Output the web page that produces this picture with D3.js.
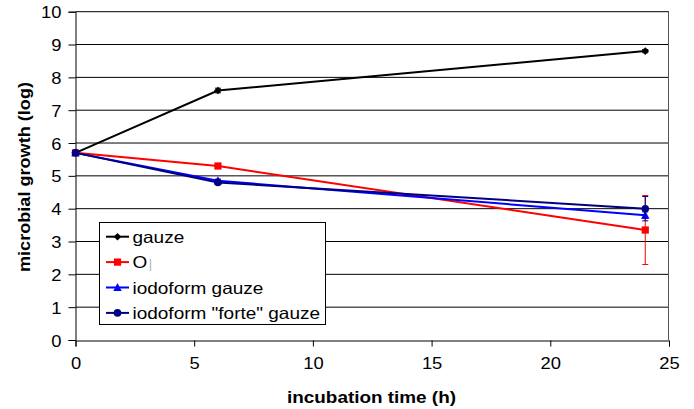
<!DOCTYPE html>
<html><head><meta charset="utf-8">
<script src="https://cdn.jsdelivr.net/npm/d3@7"></script>
<style>body{margin:0;background:#fff}svg{font-family:"Liberation Sans",Arial,sans-serif}</style>
</head><body><svg id="c" width="694" height="409"></svg>
<script>
const times = [0, 6, 24];
const gauze = [5.7, 7.6, 8.8];
const gauzeErr = [0, 0.07, 0.05];
const oSeries = [5.7, 5.3, 3.35];
const oErr = [0, 0.05, 1.05];
const iodoform = [5.7, 4.85, 3.8];
const iodoformErr = [0, 0.05, 0.1];
const forte = [5.7, 4.8, 4.0];
const forteErr = [0, 0.05, 0.37];
const seriesNames = ["gauze", "O|", "iodoform gauze", "iodoform \"forte\" gauze"];
const seriesColors = ["#000000", "#ff0000", "#0000ff", "#000080"];
const seriesShapes = ["diamond", "square", "triangle", "circle"];
const xTicks = [0, 5, 10, 15, 20, 25];
const yTicks = [0,1,2,3,4,5,6,7,8,9,10];

const svg = d3.select("#c");
const x = d3.scaleLinear().domain([0, 25]).range([75.5, 669]);
const y = d3.scaleLinear().domain([0, 10]).range([340, 11.7]);
const STRETCH = 1.15;

// gridlines
svg.append("g").selectAll("line").data(yTicks.filter(d => d > 0)).join("line")
  .attr("x1", x(0)).attr("x2", x(25))
  .attr("y1", d => y(d)).attr("y2", d => y(d))
  .attr("stroke", "#000").attr("stroke-width", 1);
// right border
svg.append("line").attr("x1", 668.5).attr("x2", 668.5)
  .attr("y1", y(10)).attr("y2", y(0)).attr("stroke", "#555");

// axes
const yAxis = d3.axisLeft(y).tickValues(yTicks).tickSize(7).tickPadding(7).tickFormat(d3.format("d"));
const gy = svg.append("g").attr("transform", `translate(75.5,0)`).call(yAxis);
const xAxis = d3.axisBottom(x).tickValues(xTicks).tickSize(6).tickPadding(10).tickFormat(d3.format("d"));
const gx = svg.append("g").attr("transform", `translate(0,340.5)`).call(xAxis);
[gx, gy].forEach(g => {
  g.select(".domain").attr("stroke", "#000");
  g.selectAll(".tick line").attr("stroke", "#000");
  g.selectAll("text").attr("font-size", 17).attr("fill", "#000").attr("font-family", "Liberation Sans, Arial, sans-serif");
});
gy.selectAll(".tick text").attr("dy", "0.36em");
gx.selectAll(".tick text").attr("dy", "0.71em");
svg.selectAll(".tick text").each(function() {
  const w = this.getComputedTextLength();
  d3.select(this).attr("textLength", w * 1.08).attr("lengthAdjust", "spacingAndGlyphs");
});

// titles
svg.append("text").attr("x", 371.5).attr("y", 402.5).attr("text-anchor", "middle")
  .attr("font-size", 16).attr("font-weight", "bold")
  .attr("textLength", 169).attr("lengthAdjust", "spacingAndGlyphs").text("incubation time (h)");
svg.append("text").attr("transform", "translate(29.5,177) rotate(-90)").attr("text-anchor", "middle")
  .attr("font-size", 16).attr("font-weight", "bold")
  .attr("textLength", 190).attr("lengthAdjust", "spacingAndGlyphs").text("microbial growth (log)");

const allSeries = [
  {vals: gauze, err: gauzeErr},
  {vals: oSeries, err: oErr},
  {vals: iodoform, err: iodoformErr},
  {vals: forte, err: forteErr}
];

function marker(g, shape, color, cx, cy) {
  if (shape === "diamond") {
    g.append("path").attr("d", `M${cx},${cy-3.8}L${cx+3.8},${cy}L${cx},${cy+3.8}L${cx-3.8},${cy}Z`).attr("fill", color);
  } else if (shape === "square") {
    g.append("rect").attr("x", cx - 3.6).attr("y", cy - 3.6).attr("width", 7.2).attr("height", 7.2).attr("fill", color);
  } else if (shape === "triangle") {
    g.append("path").attr("d", `M${cx},${cy-4.5}L${cx+4.2},${cy+3.5}L${cx-4.2},${cy+3.5}Z`).attr("fill", color);
  } else {
    g.append("circle").attr("cx", cx).attr("cy", cy).attr("r", 3.8).attr("fill", color);
  }
}

const line = d3.line().x(d => x(d[0])).y(d => y(d[1]));
allSeries.forEach((s, i) => {
  const g = svg.append("g");
  const col = seriesColors[i];
  times.forEach((t, j) => {
    const e = s.err[j];
    if (e > 0) {
      const cx = x(t);
      g.append("line").attr("x1", cx).attr("x2", cx).attr("y1", y(s.vals[j] + e)).attr("y2", y(s.vals[j] - e)).attr("stroke", col);
      [s.vals[j] + e, s.vals[j] - e].forEach(v => g.append("line").attr("x1", cx - 3).attr("x2", cx + 3).attr("y1", y(v)).attr("y2", y(v)).attr("stroke", col));
    }
  });
  g.append("path").datum(times.map((t, j) => [t, s.vals[j]])).attr("d", line)
    .attr("fill", "none").attr("stroke", col).attr("stroke-width", 2);
  times.forEach((t, j) => marker(g, seriesShapes[i], col, x(t), y(s.vals[j])));
});

// legend
const lg = svg.append("g");
lg.append("rect").attr("x", 99.5).attr("y", 222.5).attr("width", 226).attr("height", 102)
  .attr("fill", "#fff").attr("stroke", "#000");
seriesNames.forEach((n, i) => {
  const ly = 236.7 + i * 25.4;
  lg.append("line").attr("x1", 106).attr("x2", 129).attr("y1", ly).attr("y2", ly).attr("stroke", seriesColors[i]).attr("stroke-width", 2);
  marker(lg, seriesShapes[i], seriesColors[i], 117.5, ly);
  const t = lg.append("text").attr("x", 132.5).attr("y", ly + 6).attr("font-size", 16.5);
  if (n === "O|") {
    t.append("tspan").text("O");
    t.append("tspan").attr("fill", "#bbb").attr("font-size", 13).attr("dx", 1).text("|");
    t.attr("transform", `translate(${132.5},0) scale(${STRETCH},1) translate(${-132.5},0)`);
  } else {
    t.text(n);
    const w = t.node().getComputedTextLength();
    t.attr("textLength", w * STRETCH).attr("lengthAdjust", "spacingAndGlyphs");
  }
});
</script></body></html>
